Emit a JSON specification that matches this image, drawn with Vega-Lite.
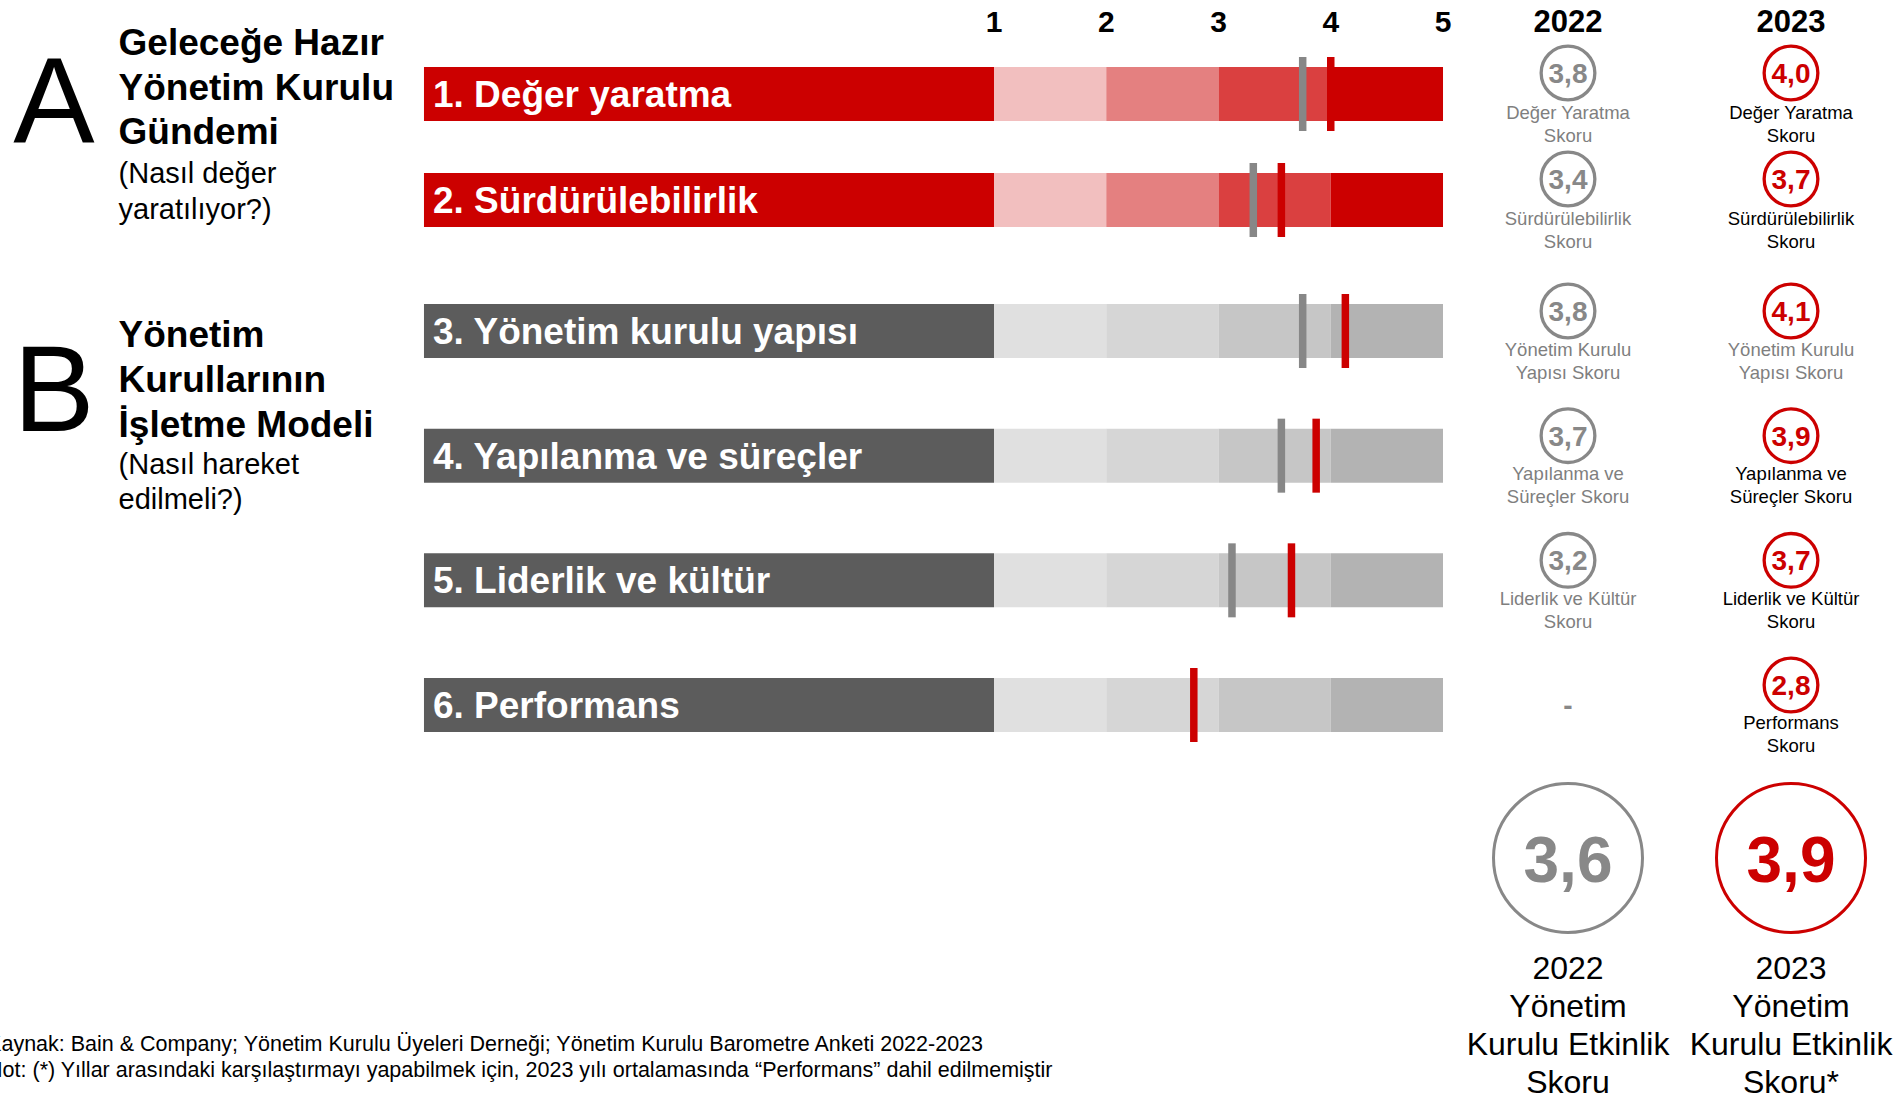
{
  "$schema": "https://vega.github.io/schema/vega-lite/v6.json",
  "padding": 0,
  "background": "white",
  "spacing": 0,
  "bounds": "flush",
  "config": {"view": {"stroke": null}, "font": "Liberation Sans", "concat": {"spacing": 0}},
  "datasets": {
    "scalevals": [{"v": 1}, {"v": 2}, {"v": 3}, {"v": 4}, {"v": 5}],
    "years": [{"year": "2022"}, {"year": "2023"}],
    "rows": [
      {"row": "1", "grp": "A", "label": "1. Değer yaratma"},
      {"row": "2", "grp": "A", "label": "2. Sürdürülebilirlik"},
      {"row": "3", "grp": "B", "label": "3. Yönetim kurulu yapısı"},
      {"row": "4", "grp": "B", "label": "4. Yapılanma ve süreçler"},
      {"row": "5", "grp": "B", "label": "5. Liderlik ve kültür"},
      {"row": "6", "grp": "B", "label": "6. Performans"}
    ],
    "bands": [
      {"row": "1", "grp": "A", "lo": 1, "hi": 2, "band": "A1"},
      {"row": "1", "grp": "A", "lo": 2, "hi": 3, "band": "A2"},
      {"row": "1", "grp": "A", "lo": 3, "hi": 4, "band": "A3"},
      {"row": "1", "grp": "A", "lo": 4, "hi": 5, "band": "A4"},
      {"row": "2", "grp": "A", "lo": 1, "hi": 2, "band": "A1"},
      {"row": "2", "grp": "A", "lo": 2, "hi": 3, "band": "A2"},
      {"row": "2", "grp": "A", "lo": 3, "hi": 4, "band": "A3"},
      {"row": "2", "grp": "A", "lo": 4, "hi": 5, "band": "A4"},
      {"row": "3", "grp": "B", "lo": 1, "hi": 2, "band": "B1"},
      {"row": "3", "grp": "B", "lo": 2, "hi": 3, "band": "B2"},
      {"row": "3", "grp": "B", "lo": 3, "hi": 4, "band": "B3"},
      {"row": "3", "grp": "B", "lo": 4, "hi": 5, "band": "B4"},
      {"row": "4", "grp": "B", "lo": 1, "hi": 2, "band": "B1"},
      {"row": "4", "grp": "B", "lo": 2, "hi": 3, "band": "B2"},
      {"row": "4", "grp": "B", "lo": 3, "hi": 4, "band": "B3"},
      {"row": "4", "grp": "B", "lo": 4, "hi": 5, "band": "B4"},
      {"row": "5", "grp": "B", "lo": 1, "hi": 2, "band": "B1"},
      {"row": "5", "grp": "B", "lo": 2, "hi": 3, "band": "B2"},
      {"row": "5", "grp": "B", "lo": 3, "hi": 4, "band": "B3"},
      {"row": "5", "grp": "B", "lo": 4, "hi": 5, "band": "B4"},
      {"row": "6", "grp": "B", "lo": 1, "hi": 2, "band": "B1"},
      {"row": "6", "grp": "B", "lo": 2, "hi": 3, "band": "B2"},
      {"row": "6", "grp": "B", "lo": 3, "hi": 4, "band": "B3"},
      {"row": "6", "grp": "B", "lo": 4, "hi": 5, "band": "B4"}
    ],
    "scores": [
      {"row": "1", "grp": "A", "year": "2022", "tick": 3.75, "label": "3,8", "caption": "Değer Yaratma\nSkoru"},
      {"row": "1", "grp": "A", "year": "2023", "tick": 4.0, "label": "4,0", "caption": "Değer Yaratma\nSkoru"},
      {"row": "2", "grp": "A", "year": "2022", "tick": 3.31, "label": "3,4", "caption": "Sürdürülebilirlik\nSkoru"},
      {"row": "2", "grp": "A", "year": "2023", "tick": 3.56, "label": "3,7", "caption": "Sürdürülebilirlik\nSkoru"},
      {"row": "3", "grp": "B", "year": "2022", "tick": 3.75, "label": "3,8", "caption": "Yönetim Kurulu\nYapısı Skoru"},
      {"row": "3", "grp": "B", "year": "2023", "tick": 4.13, "label": "4,1", "caption": "Yönetim Kurulu\nYapısı Skoru"},
      {"row": "4", "grp": "B", "year": "2022", "tick": 3.56, "label": "3,7", "caption": "Yapılanma ve\nSüreçler Skoru"},
      {"row": "4", "grp": "B", "year": "2023", "tick": 3.87, "label": "3,9", "caption": "Yapılanma ve\nSüreçler Skoru"},
      {"row": "5", "grp": "B", "year": "2022", "tick": 3.12, "label": "3,2", "caption": "Liderlik ve Kültür\nSkoru"},
      {"row": "5", "grp": "B", "year": "2023", "tick": 3.65, "label": "3,7", "caption": "Liderlik ve Kültür\nSkoru"},
      {"row": "6", "grp": "B", "year": "2022", "tick": null, "label": "-", "caption": ""},
      {"row": "6", "grp": "B", "year": "2023", "tick": 2.78, "label": "2,8", "caption": "Performans\nSkoru"}
    ],
    "totals": [
      {"year": "2022", "label": "3,6", "caption": "2022\nYönetim\nKurulu Etkinlik\nSkoru"},
      {"year": "2023", "label": "3,9", "caption": "2023\nYönetim\nKurulu Etkinlik\nSkoru*"}
    ],
    "headings": [
      {"grp": "A", "letter": "A", "title": "Geleceğe Hazır\nYönetim Kurulu\nGündemi", "sub": "(Nasıl değer\nyaratılıyor?)"},
      {"grp": "B", "letter": "B", "title": "Yönetim\nKurullarının\nİşletme Modeli", "sub": "(Nasıl hareket\nedilmeli?)"}
    ],
    "notes": [
      {"text": "Kaynak: Bain & Company; Yönetim Kurulu Üyeleri Derneği; Yönetim Kurulu Barometre Anketi 2022-2023\nNot: (*) Yıllar arasındaki karşılaştırmayı yapabilmek için, 2023 yılı ortalamasında “Performans” dahil edilmemiştir"}
    ]
  },
  "vconcat": [
    {
      "width": 1901, "height": 41,
      "layer": [
        {
          "data": {"name": "scalevals"},
          "mark": {"type": "text", "fontSize": 30, "fontWeight": "bold", "baseline": "middle", "dy": 2, "color": "#000000"},
          "encoding": {
            "x": {"field": "v", "type": "quantitative", "scale": {"type": "linear", "domain": [-7.855, 9.08], "nice": false, "zero": false}, "axis": null},
            "text": {"field": "v", "type": "quantitative"}
          }
        },
        {
          "data": {"name": "years"},
          "mark": {"type": "text", "fontSize": 31, "fontWeight": "bold", "baseline": "middle", "dy": 2, "color": "#000000"},
          "encoding": {
            "x": {"field": "year", "type": "nominal", "scale": {"type": "point", "domain": ["2022", "2023"], "range": [1568, 1791], "padding": 0}, "axis": null},
            "text": {"field": "year", "type": "nominal"}
          }
        }
      ],
      "resolve": {"scale": {"x": "independent"}}
    },
    {
      "width": 1901, "height": 212,
      "layer": [
        {
          "layer": [
            {
              "data": {"name": "rows"},
              "transform": [{"filter": "datum.grp === 'A'"}],
              "mark": {"type": "bar", "height": 54, "opacity": 1},
              "encoding": {
                "y": {"field": "row", "type": "nominal", "scale": {"type": "point", "domain": ["1", "2"], "padding": 0.5}, "axis": null},
                "x": {"datum": -4.078, "type": "quantitative", "scale": {"type": "linear", "domain": [-7.855, 9.08], "nice": false, "zero": false}, "axis": null},
                "x2": {"datum": 1},
                "color": {"field": "grp", "type": "nominal", "scale": {"domain": ["A", "B"], "range": ["#CC0000", "#5C5C5C"]}, "legend": null}
              }
            },
            {
              "data": {"name": "bands"},
              "transform": [{"filter": "datum.grp === 'A'"}],
              "mark": {"type": "bar", "height": 54, "opacity": 1},
              "encoding": {
                "y": {"field": "row", "type": "nominal", "scale": {"type": "point", "domain": ["1", "2"], "padding": 0.5}, "axis": null},
                "x": {"field": "lo", "type": "quantitative", "scale": {"type": "linear", "domain": [-7.855, 9.08], "nice": false, "zero": false}, "axis": null},
                "x2": {"field": "hi"},
                "color": {"field": "band", "type": "nominal", "scale": {"domain": ["A1", "A2", "A3", "A4", "B1", "B2", "B3", "B4"], "range": ["#F2BFBF", "#E48080", "#DA4040", "#CC0000", "#E0E0E0", "#D6D6D6", "#C6C6C6", "#B3B3B3"]}, "legend": null}
              }
            },
            {
              "data": {"name": "rows"},
              "transform": [{"filter": "datum.grp === 'A'"}],
              "mark": {"type": "text", "align": "left", "baseline": "middle", "dx": 9, "dy": 2, "fontSize": 37, "fontWeight": "bold", "color": "#FFFFFF"},
              "encoding": {
                "y": {"field": "row", "type": "nominal", "scale": {"type": "point", "domain": ["1", "2"], "padding": 0.5}, "axis": null},
                "x": {"datum": -4.078, "type": "quantitative", "scale": {"type": "linear", "domain": [-7.855, 9.08], "nice": false, "zero": false}, "axis": null},
                "text": {"field": "label", "type": "nominal"}
              }
            },
            {
              "data": {"name": "scores"},
              "transform": [{"filter": "datum.grp === 'A' && datum.tick != null"}],
              "mark": {"type": "tick", "size": 74, "thickness": 7.5, "opacity": 1},
              "encoding": {
                "y": {"field": "row", "type": "nominal", "scale": {"type": "point", "domain": ["1", "2"], "padding": 0.5}, "axis": null},
                "x": {"field": "tick", "type": "quantitative", "scale": {"type": "linear", "domain": [-7.855, 9.08], "nice": false, "zero": false}, "axis": null},
                "color": {"field": "year", "type": "nominal", "scale": {"domain": ["2022", "2023"], "range": ["#878787", "#CC0000"]}, "legend": null}
              }
            },
            {
              "data": {"name": "headings"},
              "transform": [{"filter": "datum.grp === 'A'"}],
              "mark": {"type": "text", "align": "center", "baseline": "alphabetic", "dy": 49, "fontSize": 122, "color": "#000000"},
              "encoding": {
                "y": {"datum": "1", "type": "nominal", "scale": {"type": "point", "domain": ["1", "2"], "padding": 0.5}, "axis": null},
                "x": {"datum": -7.374, "type": "quantitative", "scale": {"type": "linear", "domain": [-7.855, 9.08], "nice": false, "zero": false}, "axis": null},
                "text": {"field": "letter", "type": "nominal"}
              }
            },
            {
              "data": {"name": "headings"},
              "transform": [{"filter": "datum.grp === 'A'"}],
              "mark": {"type": "text", "align": "left", "baseline": "alphabetic", "dy": -39, "fontSize": 37, "fontWeight": "bold", "lineHeight": 44.5, "lineBreak": "\n", "color": "#000000"},
              "encoding": {
                "y": {"datum": "1", "type": "nominal", "scale": {"type": "point", "domain": ["1", "2"], "padding": 0.5}, "axis": null},
                "x": {"datum": -6.799, "type": "quantitative", "scale": {"type": "linear", "domain": [-7.855, 9.08], "nice": false, "zero": false}, "axis": null},
                "text": {"field": "title", "type": "nominal"}
              }
            },
            {
              "data": {"name": "headings"},
              "transform": [{"filter": "datum.grp === 'A'"}],
              "mark": {"type": "text", "align": "left", "baseline": "alphabetic", "dy": 89, "fontSize": 29, "lineHeight": 35.5, "lineBreak": "\n", "color": "#000000"},
              "encoding": {
                "y": {"datum": "1", "type": "nominal", "scale": {"type": "point", "domain": ["1", "2"], "padding": 0.5}, "axis": null},
                "x": {"datum": -6.799, "type": "quantitative", "scale": {"type": "linear", "domain": [-7.855, 9.08], "nice": false, "zero": false}, "axis": null},
                "text": {"field": "sub", "type": "nominal"}
              }
            }
          ],
          "resolve": {"scale": {"color": "independent"}}
        },
        {
          "layer": [
            {
              "data": {"name": "scores"},
              "transform": [{"filter": "datum.grp === 'A' && datum.tick != null"}],
              "mark": {"type": "point", "shape": "circle", "filled": false, "size": 2884, "strokeWidth": 3.3, "opacity": 1, "yOffset": -21},
              "encoding": {
                "y": {"field": "row", "type": "nominal", "scale": {"type": "point", "domain": ["1", "2"], "padding": 0.5}, "axis": null},
                "x": {"field": "year", "type": "nominal", "scale": {"type": "point", "domain": ["2022", "2023"], "range": [1568, 1791], "padding": 0}, "axis": null},
                "color": {"field": "year", "type": "nominal", "scale": {"domain": ["2022", "2023"], "range": ["#888888", "#CC0000"]}, "legend": null}
              }
            },
            {
              "data": {"name": "scores"},
              "transform": [{"filter": "datum.grp === 'A' && datum.tick != null"}],
              "mark": {"type": "text", "baseline": "middle", "fontSize": 28, "fontWeight": "bold", "yOffset": -21, "dy": 2},
              "encoding": {
                "y": {"field": "row", "type": "nominal", "scale": {"type": "point", "domain": ["1", "2"], "padding": 0.5}, "axis": null},
                "x": {"field": "year", "type": "nominal", "scale": {"type": "point", "domain": ["2022", "2023"], "range": [1568, 1791], "padding": 0}, "axis": null},
                "text": {"field": "label", "type": "nominal"},
                "color": {"field": "year", "type": "nominal", "scale": {"domain": ["2022", "2023"], "range": ["#888888", "#CC0000"]}, "legend": null}
              }
            },
            {
              "data": {"name": "scores"},
              "transform": [{"filter": "datum.grp === 'A' && datum.tick != null"}],
              "mark": {"type": "text", "baseline": "alphabetic", "fontSize": 18.5, "lineHeight": 23, "lineBreak": "\n", "dy": 24.5},
              "encoding": {
                "y": {"field": "row", "type": "nominal", "scale": {"type": "point", "domain": ["1", "2"], "padding": 0.5}, "axis": null},
                "x": {"field": "year", "type": "nominal", "scale": {"type": "point", "domain": ["2022", "2023"], "range": [1568, 1791], "padding": 0}, "axis": null},
                "text": {"field": "caption", "type": "nominal"},
                "color": {"condition": {"test": "datum.year === '2022' || datum.row === '3'", "value": "#7F7F7F"}, "value": "#000000"}
              }
            }
          ]
        }
      ],
      "resolve": {"scale": {"x": "independent"}}
    },
    {
      "width": 1901, "height": 530,
      "layer": [
        {
          "layer": [
            {
              "data": {"name": "rows"},
              "transform": [{"filter": "datum.grp === 'B'"}],
              "mark": {"type": "bar", "height": 54, "opacity": 1},
              "encoding": {
                "y": {"field": "row", "type": "nominal", "scale": {"type": "point", "domain": ["3", "4", "5", "6"], "padding": 0.6257}, "axis": null},
                "x": {"datum": -4.078, "type": "quantitative", "scale": {"type": "linear", "domain": [-7.855, 9.08], "nice": false, "zero": false}, "axis": null},
                "x2": {"datum": 1},
                "color": {"field": "grp", "type": "nominal", "scale": {"domain": ["A", "B"], "range": ["#CC0000", "#5C5C5C"]}, "legend": null}
              }
            },
            {
              "data": {"name": "bands"},
              "transform": [{"filter": "datum.grp === 'B'"}],
              "mark": {"type": "bar", "height": 54, "opacity": 1},
              "encoding": {
                "y": {"field": "row", "type": "nominal", "scale": {"type": "point", "domain": ["3", "4", "5", "6"], "padding": 0.6257}, "axis": null},
                "x": {"field": "lo", "type": "quantitative", "scale": {"type": "linear", "domain": [-7.855, 9.08], "nice": false, "zero": false}, "axis": null},
                "x2": {"field": "hi"},
                "color": {"field": "band", "type": "nominal", "scale": {"domain": ["A1", "A2", "A3", "A4", "B1", "B2", "B3", "B4"], "range": ["#F2BFBF", "#E48080", "#DA4040", "#CC0000", "#E0E0E0", "#D6D6D6", "#C6C6C6", "#B3B3B3"]}, "legend": null}
              }
            },
            {
              "data": {"name": "rows"},
              "transform": [{"filter": "datum.grp === 'B'"}],
              "mark": {"type": "text", "align": "left", "baseline": "middle", "dx": 9, "dy": 2, "fontSize": 37, "fontWeight": "bold", "color": "#FFFFFF"},
              "encoding": {
                "y": {"field": "row", "type": "nominal", "scale": {"type": "point", "domain": ["3", "4", "5", "6"], "padding": 0.6257}, "axis": null},
                "x": {"datum": -4.078, "type": "quantitative", "scale": {"type": "linear", "domain": [-7.855, 9.08], "nice": false, "zero": false}, "axis": null},
                "text": {"field": "label", "type": "nominal"}
              }
            },
            {
              "data": {"name": "scores"},
              "transform": [{"filter": "datum.grp === 'B' && datum.tick != null"}],
              "mark": {"type": "tick", "size": 74, "thickness": 7.5, "opacity": 1},
              "encoding": {
                "y": {"field": "row", "type": "nominal", "scale": {"type": "point", "domain": ["3", "4", "5", "6"], "padding": 0.6257}, "axis": null},
                "x": {"field": "tick", "type": "quantitative", "scale": {"type": "linear", "domain": [-7.855, 9.08], "nice": false, "zero": false}, "axis": null},
                "color": {"field": "year", "type": "nominal", "scale": {"domain": ["2022", "2023"], "range": ["#878787", "#CC0000"]}, "legend": null}
              }
            },
            {
              "data": {"name": "headings"},
              "transform": [{"filter": "datum.grp === 'B'"}],
              "mark": {"type": "text", "align": "center", "baseline": "alphabetic", "dy": 100, "fontSize": 122, "color": "#000000"},
              "encoding": {
                "y": {"datum": "3", "type": "nominal", "scale": {"type": "point", "domain": ["3", "4", "5", "6"], "padding": 0.6257}, "axis": null},
                "x": {"datum": -7.374, "type": "quantitative", "scale": {"type": "linear", "domain": [-7.855, 9.08], "nice": false, "zero": false}, "axis": null},
                "text": {"field": "letter", "type": "nominal"}
              }
            },
            {
              "data": {"name": "headings"},
              "transform": [{"filter": "datum.grp === 'B'"}],
              "mark": {"type": "text", "align": "left", "baseline": "alphabetic", "dy": 16, "fontSize": 37, "fontWeight": "bold", "lineHeight": 45, "lineBreak": "\n", "color": "#000000"},
              "encoding": {
                "y": {"datum": "3", "type": "nominal", "scale": {"type": "point", "domain": ["3", "4", "5", "6"], "padding": 0.6257}, "axis": null},
                "x": {"datum": -6.799, "type": "quantitative", "scale": {"type": "linear", "domain": [-7.855, 9.08], "nice": false, "zero": false}, "axis": null},
                "text": {"field": "title", "type": "nominal"}
              }
            },
            {
              "data": {"name": "headings"},
              "transform": [{"filter": "datum.grp === 'B'"}],
              "mark": {"type": "text", "align": "left", "baseline": "alphabetic", "dy": 143, "fontSize": 29, "lineHeight": 35, "lineBreak": "\n", "color": "#000000"},
              "encoding": {
                "y": {"datum": "3", "type": "nominal", "scale": {"type": "point", "domain": ["3", "4", "5", "6"], "padding": 0.6257}, "axis": null},
                "x": {"datum": -6.799, "type": "quantitative", "scale": {"type": "linear", "domain": [-7.855, 9.08], "nice": false, "zero": false}, "axis": null},
                "text": {"field": "sub", "type": "nominal"}
              }
            }
          ],
          "resolve": {"scale": {"color": "independent"}}
        },
        {
          "layer": [
            {
              "data": {"name": "scores"},
              "transform": [{"filter": "datum.grp === 'B' && datum.tick != null"}],
              "mark": {"type": "point", "shape": "circle", "filled": false, "size": 2884, "strokeWidth": 3.3, "opacity": 1, "yOffset": -20},
              "encoding": {
                "y": {"field": "row", "type": "nominal", "scale": {"type": "point", "domain": ["3", "4", "5", "6"], "padding": 0.6257}, "axis": null},
                "x": {"field": "year", "type": "nominal", "scale": {"type": "point", "domain": ["2022", "2023"], "range": [1568, 1791], "padding": 0}, "axis": null},
                "color": {"field": "year", "type": "nominal", "scale": {"domain": ["2022", "2023"], "range": ["#888888", "#CC0000"]}, "legend": null}
              }
            },
            {
              "data": {"name": "scores"},
              "transform": [{"filter": "datum.grp === 'B' && datum.tick != null"}],
              "mark": {"type": "text", "baseline": "middle", "fontSize": 28, "fontWeight": "bold", "yOffset": -20, "dy": 2},
              "encoding": {
                "y": {"field": "row", "type": "nominal", "scale": {"type": "point", "domain": ["3", "4", "5", "6"], "padding": 0.6257}, "axis": null},
                "x": {"field": "year", "type": "nominal", "scale": {"type": "point", "domain": ["2022", "2023"], "range": [1568, 1791], "padding": 0}, "axis": null},
                "text": {"field": "label", "type": "nominal"},
                "color": {"field": "year", "type": "nominal", "scale": {"domain": ["2022", "2023"], "range": ["#888888", "#CC0000"]}, "legend": null}
              }
            },
            {
              "data": {"name": "scores"},
              "transform": [{"filter": "datum.grp === 'B' && datum.tick == null"}],
              "mark": {"type": "text", "baseline": "middle", "fontSize": 28, "fontWeight": "bold", "dy": 2, "color": "#888888"},
              "encoding": {
                "y": {"field": "row", "type": "nominal", "scale": {"type": "point", "domain": ["3", "4", "5", "6"], "padding": 0.6257}, "axis": null},
                "x": {"field": "year", "type": "nominal", "scale": {"type": "point", "domain": ["2022", "2023"], "range": [1568, 1791], "padding": 0}, "axis": null},
                "text": {"field": "label", "type": "nominal"}
              }
            },
            {
              "data": {"name": "scores"},
              "transform": [{"filter": "datum.grp === 'B' && datum.tick != null"}],
              "mark": {"type": "text", "baseline": "alphabetic", "fontSize": 18.5, "lineHeight": 23, "lineBreak": "\n", "dy": 24.5},
              "encoding": {
                "y": {"field": "row", "type": "nominal", "scale": {"type": "point", "domain": ["3", "4", "5", "6"], "padding": 0.6257}, "axis": null},
                "x": {"field": "year", "type": "nominal", "scale": {"type": "point", "domain": ["2022", "2023"], "range": [1568, 1791], "padding": 0}, "axis": null},
                "text": {"field": "caption", "type": "nominal"},
                "color": {"condition": {"test": "datum.year === '2022' || datum.row === '3'", "value": "#7F7F7F"}, "value": "#000000"}
              }
            }
          ]
        }
      ],
      "resolve": {"scale": {"x": "independent"}}
    },
    {
      "width": 1901, "height": 150,
      "layer": [
        {
          "data": {"name": "totals"},
          "mark": {"type": "point", "shape": "circle", "filled": false, "size": 22201, "strokeWidth": 3, "opacity": 1},
          "encoding": {
            "x": {"field": "year", "type": "nominal", "scale": {"type": "point", "domain": ["2022", "2023"], "range": [1568, 1791], "padding": 0}, "axis": null},
            "color": {"field": "year", "type": "nominal", "scale": {"domain": ["2022", "2023"], "range": ["#888888", "#CC0000"]}, "legend": null}
          }
        },
        {
          "data": {"name": "totals"},
          "mark": {"type": "text", "baseline": "middle", "fontSize": 64, "fontWeight": "bold", "dy": 5},
          "encoding": {
            "x": {"field": "year", "type": "nominal", "scale": {"type": "point", "domain": ["2022", "2023"], "range": [1568, 1791], "padding": 0}, "axis": null},
            "text": {"field": "label", "type": "nominal"},
            "color": {"field": "year", "type": "nominal", "scale": {"domain": ["2022", "2023"], "range": ["#888888", "#CC0000"]}, "legend": null}
          }
        }
      ]
    },
    {
      "width": 1901, "height": 167,
      "layer": [
        {
          "data": {"name": "totals"},
          "mark": {"type": "text", "baseline": "alphabetic", "fontSize": 32, "lineHeight": 38, "lineBreak": "\n", "dy": -38, "color": "#000000"},
          "encoding": {
            "x": {"field": "year", "type": "nominal", "scale": {"type": "point", "domain": ["2022", "2023"], "range": [1568, 1791], "padding": 0}, "axis": null},
            "text": {"field": "caption", "type": "nominal"}
          }
        },
        {
          "data": {"name": "notes"},
          "mark": {"type": "text", "align": "left", "baseline": "alphabetic", "fontSize": 21.5, "lineHeight": 26, "lineBreak": "\n", "dy": 34.5, "color": "#000000", "clip": true},
          "encoding": {
            "x": {"datum": -7.97, "type": "quantitative", "scale": {"type": "linear", "domain": [-7.855, 9.08], "nice": false, "zero": false}, "axis": null},
            "text": {"field": "text", "type": "nominal"}
          }
        }
      ],
      "resolve": {"scale": {"x": "independent"}}
    }
  ]
}
